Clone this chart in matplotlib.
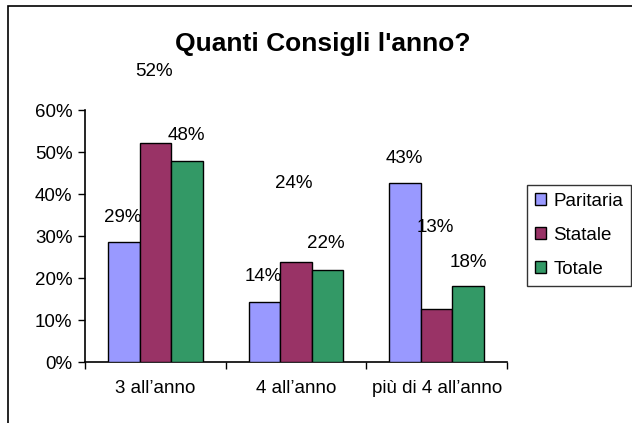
import numpy as np
import matplotlib
matplotlib.use("Agg")
import matplotlib.pyplot as plt
from matplotlib.patches import Rectangle
from matplotlib.ticker import PercentFormatter

plt.rcParams['font.family'] = ['Liberation Sans', 'DejaVu Sans']

categories = ["3 all\u2019anno", "4 all\u2019anno", "pi\u00f9 di 4 all\u2019anno"]
series = ["Paritaria", "Statale", "Totale"]
paritaria = [0.286, 0.143, 0.427]
statale = [0.521, 0.238, 0.126]
totale = [0.478, 0.220, 0.181]
colors = ["#9999FF", "#993366", "#339966"]

# where Excel put the data labels (pixels above the bar top)
label_dx = [[-1, -1, -1], [-1, -2, -1], [-1, -2, 0]]
label_dy = [[24, 25, 24], [72, 79, 82], [26, 26, 23]]

fig = plt.figure(figsize=(6.32, 4.23), dpi=100)
ax = fig.add_axes([85 / 632, 1 - 362 / 423, 422 / 632, 252 / 423])

# outer chart frame (right/bottom edges fall outside the image)
fig.patches.append(Rectangle((8 / 632, -0.1), 1.2, 1 - 6 / 423 + 0.1,
                             transform=fig.transFigure, fill=False,
                             edgecolor="black", linewidth=1.2))

x = np.arange(len(categories))
width = 0.2245
for i, (name, vals) in enumerate(zip(series, [paritaria, statale, totale])):
    pos = x + (i - 1) * width
    ax.bar(pos, vals, width, color=colors[i], edgecolor="black",
           linewidth=1.0, label=name, zorder=3)
    for j, v in enumerate(vals):
        ax.annotate(f"{round(v * 100):d}%", xy=(pos[j], v),
                    xytext=(label_dx[i][j], label_dy[i][j]),
                    textcoords="offset pixels", ha="center", va="center",
                    fontsize=13.5, annotation_clip=False, zorder=4)

ax.set_xlim(-0.5, 2.5)
ax.set_ylim(0, 0.6)
ax.set_yticks(np.arange(0, 0.61, 0.1))
ax.yaxis.set_major_formatter(PercentFormatter(1.0, decimals=0))
ax.set_xticks(x)
ax.set_xticklabels(categories)
ax.set_xticks([-0.5, 0.5, 1.5, 2.5], minor=True)
ax.tick_params(axis="x", which="major", length=0, pad=13, labelsize=13.5)
ax.tick_params(axis="x", which="minor", length=5, width=1, color="black")
ax.tick_params(axis="y", length=5, width=1, labelsize=13.5, pad=4)

for s in ["top", "right"]:
    ax.spines[s].set_visible(False)
for s in ["left", "bottom"]:
    ax.spines[s].set_linewidth(1.2)

fig.text(0.51, 1 - 44 / 423, "Quanti Consigli l'anno?", ha="center",
         va="center", fontsize=19, fontweight="bold")

leg = fig.legend(loc="upper left", bbox_to_anchor=(527 / 632, 1 - 185 / 423),
                 fontsize=13.5, frameon=True, fancybox=False,
                 edgecolor="black", handlelength=0.6, handleheight=0.6,
                 handletextpad=0.4, labelspacing=0.92, borderpad=0.4,
                 borderaxespad=0)
leg.get_frame().set_linewidth(1.0)

fig.savefig("out.png", dpi=100)
